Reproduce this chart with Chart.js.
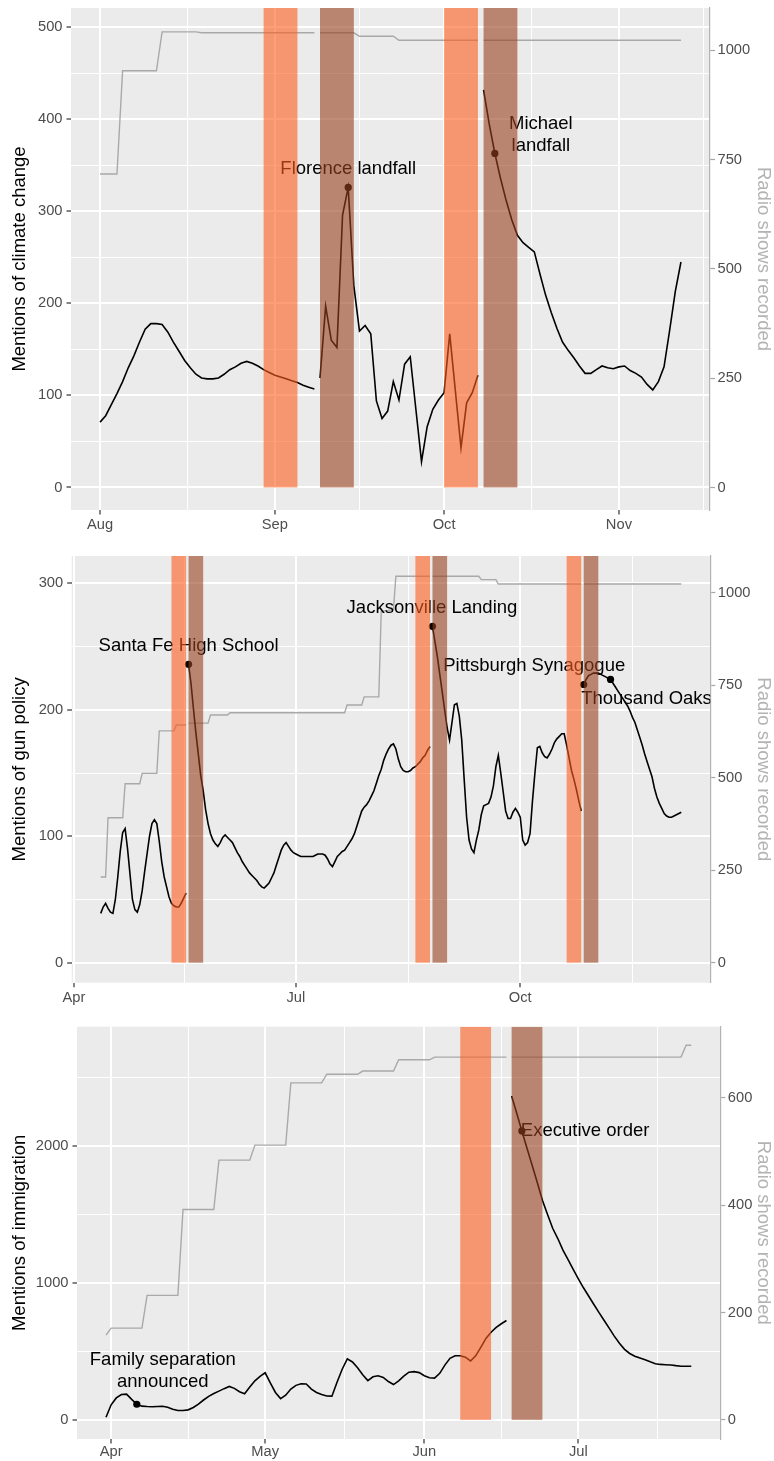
<!DOCTYPE html>
<html lang="en">
<head>
<meta charset="utf-8">
<title>Talk radio mentions around news events</title>
<script src="https://cdn.jsdelivr.net/npm/chart.js@4.4.1/dist/chart.umd.min.js"></script>
<style>
  html, body { margin: 0; padding: 0; background: #ffffff; }
  body { position: relative; width: 774px; height: 1461px; overflow: hidden; }
  canvas { position: absolute; left: 0; display: block; }
</style>
</head>
<body>
<canvas id="climate" width="774" height="540" style="top:0px"></canvas>
<canvas id="guns" width="774" height="470" style="top:540px"></canvas>
<canvas id="immigration" width="774" height="451" style="top:1010px"></canvas>
<script>
// ---------------- Climate change (day 0 = 1 Aug) ----------------
const climateMonthDays = [0, 31, 61, 92];
const climateMonthLabels = ['Aug', 'Sep', 'Oct', 'Nov'];
const climateMidMonthDays = [15.5, 46, 76.5, 107];
const climateDayRange = [-5.15, 108.15];
const climateMentionRange = [-24.5, 521];
const climateMentionTicks = [0, 100, 200, 300, 400, 500];
const climateMentionMinorTicks = [50, 150, 250, 350, 450];
const climateRadioFactor = 2.105;
const climateRadioTicks = [0, 250, 500, 750, 1000];
const climateSegmentStarts = [0, 39, 68];
const climateMentions = [
  [71, 78, 90, 102, 115, 130, 143, 158, 172, 178,
   178, 177, 169, 158, 148, 138, 130, 123, 119, 118,
   118, 119, 123, 128, 131, 135, 137, 135, 132, 128,
   125, 122, 120, 118, 116, 114, 111, 109, 107],
  [119, 197, 160, 152, 296, 326, 219, 170, 176, 167,
   94, 75, 83, 115, 95, 134, 142, 85, 28, 66,
   85, 95, 103, 167, 105, 43, 92, 103, 122],
  [432, 395, 363, 336, 312, 291, 274, 266, 261, 256,
   232, 209, 190, 173, 158, 149, 141, 132, 124, 124,
   128, 132, 130, 129, 131, 132, 127, 124, 120, 112,
   106, 115, 131, 171, 213, 245]
];
const climateRadioDays = [0, 3, 4, 10, 11, 17, 18, 38, 38.5, 39, 45, 46, 52, 53, 67, 67.5, 68, 103];
const climateRadioShows = [717, 717, 953, 953, 1042, 1042, 1040, 1040, null, 1040, 1040, 1032, 1032, 1023, 1023, null, 1023, 1023];
const climateEventNames = ['Florence landfall', 'Michael\nlandfall'];
const climateEventDays = [44, 70];
const climateEventMentions = [326, 363];
const climateWindowsBefore = [[29, 35], [61, 67]];
const climateWindowsAfter = [[39, 45], [68, 74]];

// ---------------- Gun policy (day 0 = 1 Apr) ----------------
const gunMonthDays = [0, 91, 183];
const gunMonthLabels = ['Apr', 'Jul', 'Oct'];
const gunMidMonthDays = [45.5, 137, 229];
const gunDayRange = [-0.9, 260.9];
const gunMentionRange = [-15.8, 321.6];
const gunMentionTicks = [0, 100, 200, 300];
const gunMentionMinorTicks = [50, 150, 250];
const gunRadioFactor = 3.42;
const gunRadioTicks = [0, 250, 500, 750, 1000];
const gunSegmentStarts = [11, 47, 147, 209];
const gunMentions = [
  [39, 44, 47, 43, 40, 39, 50, 68, 88, 103,
   106, 90, 70, 50, 42, 40, 46, 57, 72, 86,
   100, 110, 113, 110, 96, 80, 68, 60, 52, 47,
   45, 44, 44, 47, 51, 55],
  [236, 221, 201, 182, 165, 148, 136, 121, 110, 102,
   97, 94, 92, 95, 99, 101, 99, 97, 95, 91,
   87, 84, 80, 77, 74, 71, 69, 67, 65, 62,
   60, 59, 61, 63, 67, 71, 77, 83, 89, 93,
   95, 92, 89, 87, 86, 85, 84, 84, 84, 84,
   84, 84, 85, 86, 86, 86, 85, 82, 78, 76,
   80, 84, 86, 88, 89, 92, 95, 98, 102, 108,
   114, 120, 123, 125, 128, 132, 136, 142, 148, 153,
   160, 165, 169, 172, 173, 169, 161, 155, 152, 151,
   151, 152, 154, 155, 157, 159, 162, 164, 168, 171],
  [266, 254, 242, 228, 214, 200, 186, 176, 190, 204,
   205, 195, 176, 145, 115, 97, 90, 87, 97, 105,
   117, 124, 125, 126, 131, 140, 155, 164, 150, 135,
   120, 114, 114, 119, 122, 119, 115, 97, 93, 95,
   102, 128, 150, 170, 171, 166, 163, 162, 165, 169,
   174, 177, 179, 181, 181, 172, 162, 152, 145, 137,
   128, 120],
  [220, 224, 227, 228, 229, 229, 229, 228, 227, 226,
   225, 224, 221, 218, 215, 212, 209, 206, 203, 199,
   194, 190, 184, 178, 172, 165, 159, 153, 147, 138,
   131, 126, 122, 118, 116, 115, 115, 116, 117, 118,
   119]
];
const gunRadioDays = [11, 13, 14, 20, 21, 27, 28, 34, 35, 41, 42, 46, 46.5, 47, 55, 56, 63, 64, 111, 112, 118, 119, 125, 126, 131, 132, 146, 146.5, 147, 166, 167, 173, 174, 208, 208.5, 209, 249];
const gunRadioShows = [232, 232, 392, 392, 484, 484, 512, 512, 627, 627, 643, 643, null, 648, 648, 670, 670, 676, 676, 697, 697, 719, 719, 950, 955, 1045, 1045, null, 1045, 1045, 1036, 1036, 1024, 1024, null, 1024, 1024];
const gunEventNames = ['Santa Fe High School', 'Jacksonville Landing', 'Pittsburgh Synagogue', 'Thousand Oaks'];
const gunEventDays = [47, 147, 209, 220];
const gunEventMentions = [236, 266, 220, 224];
const gunWindowsBefore = [[40, 46], [140, 146], [202, 208]];
const gunWindowsAfter = [[47, 53], [147, 153], [209, 215]];

// ---------------- Immigration (day 0 = 1 Apr) ----------------
const immigrationMonthDays = [0, 30, 61, 91];
const immigrationMonthLabels = ['Apr', 'May', 'Jun', 'Jul'];
const immigrationMidMonthDays = [15, 45.5, 76, 106.5];
const immigrationDayRange = [-6.65, 118.65];
const immigrationMentionRange = [-140, 2873];
const immigrationMentionTicks = [0, 1000, 2000];
const immigrationMentionMinorTicks = [500, 1500, 2500];
const immigrationRadioFactor = 0.255;
const immigrationRadioTicks = [0, 200, 400, 600];
const immigrationSegmentStarts = [-1, 78];
const immigrationMentions = [
  [19, 110, 160, 185, 188, 150, 114, 100, 97, 96,
   98, 99, 92, 78, 68, 68, 73, 90, 115, 145,
   172, 192, 210, 228, 244, 230, 205, 190, 240, 285,
   318, 344, 270, 200, 155, 180, 225, 252, 264, 262,
   225, 200, 185, 174, 173, 275, 370, 446, 423, 380,
   330, 287, 315, 322, 310, 280, 258, 285, 320, 348,
   352, 345, 322, 308, 305, 340, 400, 450, 468, 468,
   458, 430, 468, 530, 595, 640, 675, 702, 726],
  [2367, 2240, 2111, 1985, 1860, 1735, 1605, 1500, 1400, 1325,
   1240, 1170, 1100, 1031, 965, 905, 845, 785, 728, 670,
   612, 560, 515, 485, 465, 452, 439, 424, 410, 405,
   403, 401, 396, 392, 392, 392]
];
const immigrationRadioDays = [-1, 0, 6, 7, 13, 14, 20, 21, 27, 28, 34, 35, 41, 42, 48, 49, 55, 56, 62, 63, 77, 77.5, 78, 111, 112, 113];
const immigrationRadioShows = [158, 171, 171, 232, 232, 392, 392, 484, 484, 512, 512, 628, 628, 644, 644, 650, 650, 671, 671, 676, 676, null, 676, 676, 698, 698];
const immigrationEventNames = ['Family separation\nannounced', 'Executive order'];
const immigrationEventDays = [5, 80];
const immigrationEventMentions = [114, 2111];
const immigrationWindowsBefore = [[68, 74]];
const immigrationWindowsAfter = [[78, 84]];

// ---------------- Styling ----------------
const FONT = '"Liberation Sans", Arial, Helvetica, sans-serif';
const PANEL_BG = '#EBEBEB';
const TICK_TEXT = '#4D4D4D';
const TICK_MARK = '#333333';
const SECONDARY = '#B3B3B3';
const BEFORE_FILL = 'rgba(252, 93, 31, 0.6)';
const AFTER_FILL = 'rgba(153, 65, 30, 0.6)';
const TICK_SIZE = 14.7;
const TEXT_SIZE = 18.5;
const LABEL_LINE = 22.5;

Chart.defaults.font.family = FONT;

// daily series split into runs; a null between runs breaks the line
function segmentPoints(starts, runs) {
  const pts = [];
  runs.forEach((vals, s) => {
    if (s > 0) pts.push({ x: starts[s] - 0.5, y: null });
    vals.forEach((v, i) => pts.push({ x: starts[s] + i, y: v }));
  });
  return pts;
}
function pairPoints(xs, ys) {
  return xs.map((d, i) => ({ x: d, y: ys[i] }));
}
function tickList(majors, minors) {
  return majors.map(v => ({ value: v, major: true }))
    .concat(minors.map(v => ({ value: v, major: false })))
    .sort((a, b) => a.value - b.value);
}
function zeroPad(sc) {
  sc.paddingLeft = 0; sc.paddingRight = 0; sc.paddingTop = 0; sc.paddingBottom = 0;
}

function buildPanel(canvasId, s) {
  const overlay = {
    id: 'eventOverlay',
    beforeDraw(chart) {
      const { ctx, chartArea: a } = chart;
      ctx.save();
      ctx.fillStyle = PANEL_BG;
      ctx.fillRect(a.left, a.top, a.right - a.left, a.bottom - a.top);
      ctx.restore();
    },
    afterDatasetsDraw(chart) {
      const { ctx, chartArea: a } = chart;
      const xs = chart.scales.x, ys = chart.scales.y;
      ctx.save();
      ctx.beginPath();
      ctx.rect(a.left, a.top, a.right - a.left, a.bottom - a.top);
      ctx.clip();
      // event labels
      ctx.font = `${TEXT_SIZE}px ${FONT}`;
      ctx.fillStyle = '#000000';
      ctx.textBaseline = 'middle';
      s.eventNames.forEach((name, i) => {
        const o = s.labelOffsets[i];
        const lines = name.split('\n');
        const px = xs.getPixelForValue(s.eventDays[i]) + o.dx;
        const py = ys.getPixelForValue(s.eventValues[i]) + o.dy;
        ctx.textAlign = o.align || 'center';
        lines.forEach((ln, j) => ctx.fillText(ln, px, py + (j - (lines.length - 1) / 2) * LABEL_LINE));
      });
      // week-before / week-after windows, laid over everything in the panel
      const base = ys.getPixelForValue(0);
      const shade = (wins, color) => {
        ctx.fillStyle = color;
        wins.forEach(([d0, d1]) => {
          const x0 = xs.getPixelForValue(d0), x1 = xs.getPixelForValue(d1);
          ctx.fillRect(x0, a.top, x1 - x0, base - a.top);
        });
      };
      shade(s.before, BEFORE_FILL);
      shade(s.after, AFTER_FILL);
      ctx.restore();
    }
  };

  return new Chart(document.getElementById(canvasId), {
    type: 'line',
    data: {
      datasets: [
        {
          type: 'scatter',
          data: pairPoints(s.eventDays, s.eventValues),
          yAxisID: 'y',
          pointRadius: 3.6, pointHoverRadius: 3.6,
          pointBackgroundColor: '#000000', pointBorderWidth: 0,
          order: 0
        },
        {
          data: segmentPoints(s.segStarts, s.mentions),
          yAxisID: 'y',
          borderColor: '#000000', borderWidth: 1.6,
          pointRadius: 0, tension: 0, spanGaps: false,
          order: 1
        },
        {
          data: pairPoints(s.radioDays, s.radioShows),
          yAxisID: 'y2',
          borderColor: '#A9A9A9', borderWidth: 1.4,
          pointRadius: 0, tension: 0, spanGaps: false,
          order: 2
        }
      ]
    },
    options: {
      responsive: false,
      animation: false,
      events: [],
      layout: { padding: { top: s.box.top, left: 0, right: 0, bottom: 0 } },
      plugins: { legend: { display: false }, tooltip: { enabled: false } },
      scales: {
        x: {
          type: 'linear', position: 'bottom',
          min: s.xRange[0], max: s.xRange[1],
          afterBuildTicks: sc => { sc.ticks = tickList(s.xMajor, s.xMinor); },
          afterFit: sc => { sc.height = s.box.xAxisH; zeroPad(sc); },
          ticks: {
            autoSkip: false, maxRotation: 0, minRotation: 0,
            padding: s.box.xLabelPad, color: TICK_TEXT,
            font: { family: FONT, size: TICK_SIZE },
            callback: v => { const k = s.xMajor.indexOf(v); return k >= 0 ? s.xLabels[k] : ''; }
          },
          grid: {
            color: '#FFFFFF',
            lineWidth: c => (c.tick && c.tick.major ? 2 : 1),
            drawTicks: true, tickLength: 4.5, tickWidth: 1.2,
            tickColor: c => (c.tick && c.tick.major ? TICK_MARK : 'rgba(0,0,0,0)')
          },
          border: { display: false }
        },
        y: {
          type: 'linear', position: 'left',
          min: s.yRange[0], max: s.yRange[1],
          afterBuildTicks: sc => { sc.ticks = tickList(s.yMajor, s.yMinor); },
          afterFit: sc => { sc.width = s.box.leftW; zeroPad(sc); },
          ticks: {
            padding: 4, color: TICK_TEXT,
            font: { family: FONT, size: TICK_SIZE },
            callback: v => (s.yMajor.indexOf(v) >= 0 ? String(v) : '')
          },
          grid: {
            color: '#FFFFFF',
            lineWidth: c => (c.tick && c.tick.major ? 2 : 1),
            drawTicks: true, tickLength: 4.5, tickWidth: 1.2,
            tickColor: c => (c.tick && c.tick.major ? TICK_MARK : 'rgba(0,0,0,0)')
          },
          border: { display: false },
          title: {
            display: true, text: s.yTitle, color: '#000000',
            font: { family: FONT, size: TEXT_SIZE, lineHeight: 1 },
            padding: { top: 11, bottom: 0 }
          }
        },
        y2: {
          type: 'linear', position: 'right',
          min: s.yRange[0] * s.radioFactor, max: s.yRange[1] * s.radioFactor,
          afterBuildTicks: sc => { sc.ticks = s.radioTicks.map(v => ({ value: v, major: true })); },
          afterFit: sc => { sc.width = s.box.rightW; zeroPad(sc); },
          ticks: {
            padding: 2.5, color: TICK_TEXT,
            font: { family: FONT, size: TICK_SIZE },
            callback: v => String(v)
          },
          grid: {
            display: true, drawOnChartArea: false,
            drawTicks: true, tickLength: 5, tickWidth: 1.2, tickColor: '#A6A6A6'
          },
          border: { display: true, color: SECONDARY, width: 1.2 },
          title: {
            display: true, text: 'Radio shows recorded', color: SECONDARY,
            font: { family: FONT, size: TEXT_SIZE, lineHeight: 1 },
            padding: { top: 1.5, bottom: 0 }
          }
        }
      }
    },
    plugins: [overlay]
  });
}

buildPanel('climate', {
  xRange: climateDayRange, xMajor: climateMonthDays, xLabels: climateMonthLabels, xMinor: climateMidMonthDays,
  yRange: climateMentionRange, yMajor: climateMentionTicks, yMinor: climateMentionMinorTicks,
  radioFactor: climateRadioFactor, radioTicks: climateRadioTicks,
  segStarts: climateSegmentStarts, mentions: climateMentions,
  radioDays: climateRadioDays, radioShows: climateRadioShows,
  eventNames: climateEventNames, eventDays: climateEventDays, eventValues: climateEventMentions,
  before: climateWindowsBefore, after: climateWindowsAfter,
  yTitle: 'Mentions of climate change',
  labelOffsets: [{ dx: 0, dy: -18.3 }, { dx: 46, dy: -18.3 }],
  box: { top: 8, xAxisH: 30, leftW: 71, rightW: 64, xLabelPad: 1.5 }
});

buildPanel('guns', {
  xRange: gunDayRange, xMajor: gunMonthDays, xLabels: gunMonthLabels, xMinor: gunMidMonthDays,
  yRange: gunMentionRange, yMajor: gunMentionTicks, yMinor: gunMentionMinorTicks,
  radioFactor: gunRadioFactor, radioTicks: gunRadioTicks,
  segStarts: gunSegmentStarts, mentions: gunMentions,
  radioDays: gunRadioDays, radioShows: gunRadioShows,
  eventNames: gunEventNames, eventDays: gunEventDays, eventValues: gunEventMentions,
  before: gunWindowsBefore, after: gunWindowsAfter,
  yTitle: 'Mentions of gun policy',
  labelOffsets: [{ dx: 0, dy: -18.3 }, { dx: -0.5, dy: -18.3 }, { dx: -49.5, dy: -18.3 }, { dx: 36, dy: 19 }],
  box: { top: 16, xAxisH: 27.3, leftW: 71.7, rightW: 63.7, xLabelPad: 1.5 }
});

buildPanel('immigration', {
  xRange: immigrationDayRange, xMajor: immigrationMonthDays, xLabels: immigrationMonthLabels, xMinor: immigrationMidMonthDays,
  yRange: immigrationMentionRange, yMajor: immigrationMentionTicks, yMinor: immigrationMentionMinorTicks,
  radioFactor: immigrationRadioFactor, radioTicks: immigrationRadioTicks,
  segStarts: immigrationSegmentStarts, mentions: immigrationMentions,
  radioDays: immigrationRadioDays, radioShows: immigrationRadioShows,
  eventNames: immigrationEventNames, eventDays: immigrationEventDays, eventValues: immigrationEventMentions,
  before: immigrationWindowsBefore, after: immigrationWindowsAfter,
  yTitle: 'Mentions of immigration',
  labelOffsets: [{ dx: 26, dy: -33.5 }, { dx: -1, dy: 0, align: 'left' }],
  box: { top: 16.7, xAxisH: 22, leftW: 77, rightW: 53.7, xLabelPad: 0 }
});
</script>
</body>
</html>
